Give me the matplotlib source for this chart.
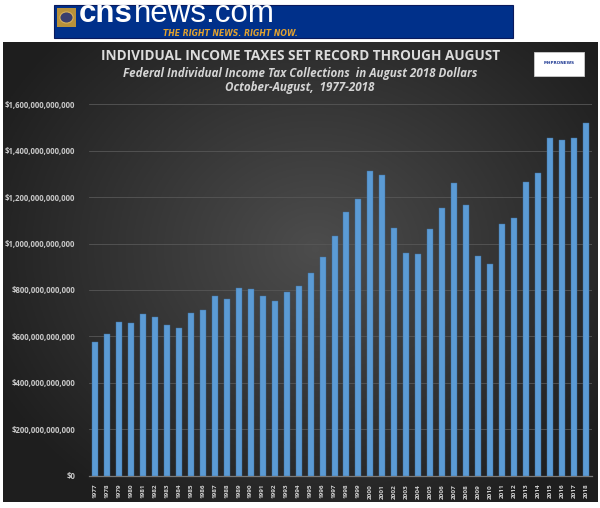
import matplotlib.pyplot as plt
import numpy as np
from matplotlib.patches import Rectangle, Circle
from matplotlib.ticker import FuncFormatter

years = ["1977", "1978", "1979", "1980", "1981", "1982", "1983", "1984", "1985", "1986",
         "1987", "1988", "1989", "1990", "1991", "1992", "1993", "1994", "1995", "1996",
         "1997", "1998", "1999", "2000", "2001", "2002", "2003", "2004", "2005", "2006",
         "2007", "2008", "2009", "2010", "2011", "2012", "2013", "2014", "2015", "2016",
         "2017", "2018"]
# collections in billions of August 2018 dollars
collections_bn = [577, 610, 663, 656, 695, 683, 647, 637, 699, 715,
                  775, 761, 807, 803, 772, 751, 790, 817, 872, 941,
                  1031, 1137, 1191, 1311, 1294, 1065, 959, 955, 1064, 1152,
                  1261, 1166, 947, 913, 1085, 1109, 1266, 1305, 1456, 1447,
                  1456, 1521]
y_ticks = [0, 200e9, 400e9, 600e9, 800e9, 1000e9, 1200e9, 1400e9, 1600e9]

title = "INDIVIDUAL INCOME TAXES SET RECORD THROUGH AUGUST"
subtitle = "Federal Individual Income Tax Collections  in August 2018 Dollars"
subtitle2 = "October-August,  1977-2018"

W, H = 600, 508
fig = plt.figure(figsize=(6, 5.08), dpi=100, facecolor="white")

def fx(px):
    return px / W

def fy(py):
    return 1 - py / H

# dark panel with radial gradient
bg = fig.add_axes([fx(3), fy(502), fx(598) - fx(3), fy(42) - fy(502)])
gx, gy = np.meshgrid(np.linspace(-1, 1, 300), np.linspace(-1, 1, 240))
r = np.sqrt(((gx - 0.05) / 1.0) ** 2 + ((gy + 0.1) / 1.1) ** 2)
shade = np.clip(0.30 - 0.15 * r, 0.12, 0.30)
bg.imshow(np.dstack([shade, shade, shade]), aspect="auto", extent=[0, 1, 0, 1])
bg.set_axis_off()

# cnsnews banner
fig.patches.append(Rectangle((fx(54), fy(38)), fx(513) - fx(54), fy(5) - fy(38),
                             transform=fig.transFigure, facecolor="#00308a",
                             edgecolor="#0a1a5c", lw=0.8))
fig.patches.append(Rectangle((fx(57), fy(27)), fx(19), fy(8) - fy(27),
                             transform=fig.transFigure, facecolor="#b8913a"))
fig.patches.append(Circle((fx(66.5), fy(17.5)), 0.011, transform=fig.transFigure,
                          facecolor="#3a3f6e", edgecolor="#d8b15a", lw=0.8))
cns = fig.text(fx(79), fy(22.5), "cns", color="white", fontsize=22.5, fontweight="bold",
               family="Liberation Sans", va="baseline", ha="left")
renderer = fig.canvas.get_renderer()
cns_right = cns.get_window_extent(renderer).x1
fig.text(cns_right / W + fx(1), fy(22.5), "news.com", color="white", fontsize=22.5,
         family="Liberation Sans", va="baseline", ha="left")
fig.text(fx(298), fy(33), "THE RIGHT NEWS. RIGHT NOW.", color="#e0a030", fontsize=5.6,
         fontweight="bold", style="italic", family="DejaVu Sans", va="center", ha="right")

# small logo top right
fig.patches.append(Rectangle((fx(534), fy(76)), fx(50), fy(52) - fy(76),
                             transform=fig.transFigure, facecolor="white",
                             edgecolor="#cccccc", lw=0.6))
fig.text(fx(559), fy(63), "MHPRONEWS", color="#1f3a93", fontsize=3, fontweight="bold",
         ha="center", va="center")

# titles
fig.text(fx(301), fy(56), title, color="#dcdcdc", fontsize=9.8, fontweight="bold",
         family="Open Sans", ha="center", va="center")
fig.text(fx(300), fy(73), subtitle, color="#d4d4d4", fontsize=8.4, fontweight="bold",
         style="italic", family="Open Sans", ha="center", va="center")
fig.text(fx(300), fy(87), subtitle2, color="#d4d4d4", fontsize=8.4, fontweight="bold",
         style="italic", family="Open Sans", ha="center", va="center")

# chart
ax = fig.add_axes([fx(89), fy(475.5), fx(592) - fx(89), fy(104.3) - fy(475.5)])
ax.patch.set_alpha(0)
x = np.arange(len(years))
vals = [v * 1e9 for v in collections_bn]
ax.bar(x, vals, width=0.5, color="#5b9bd5", edgecolor="#3f6f9c", lw=0.3, zorder=3)
ax.set_xlim(-0.5, len(years) - 0.5)
ax.set_ylim(0, 1600e9)
ax.set_yticks(y_ticks)
ax.yaxis.set_major_formatter(FuncFormatter(lambda v, p: "${:,.0f}".format(v)))
ax.grid(axis="y", color="#575757", lw=0.6, zorder=0)
ax.set_axisbelow(True)
for s in ["top", "right", "left"]:
    ax.spines[s].set_visible(False)
ax.spines["bottom"].set_color("#7a7a7a")
ax.spines["bottom"].set_linewidth(0.9)
ax.set_xticks(x)
ax.set_xticklabels(years, rotation=90)
ax.tick_params(axis="x", length=0, pad=6, labelsize=4.6, labelcolor="#cfcfcf")
ax.tick_params(axis="y", length=0, pad=10, labelsize=5.6, labelcolor="#c8c8c8")
for lab in ax.get_xticklabels() + ax.get_yticklabels():
    lab.set_fontweight("bold")
    lab.set_family("Open Sans")

fig.savefig("out.png", dpi=100, facecolor="white")
